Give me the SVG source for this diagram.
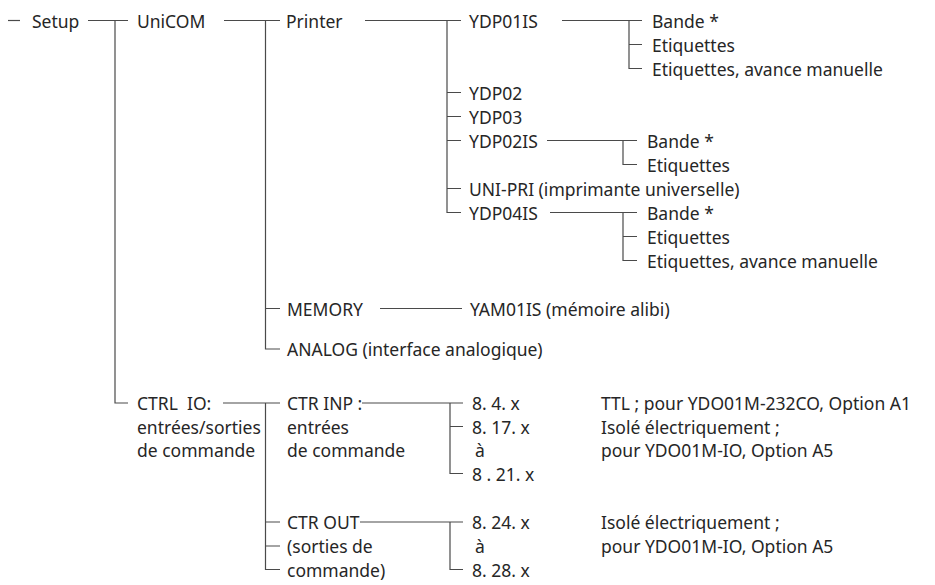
<svg xmlns="http://www.w3.org/2000/svg" width="935" height="585" viewBox="0 0 935 585">
<style>
text{font-family:"Noto Sans","DejaVu Sans",sans-serif;font-size:17.5px;fill:#262626}
.c{fill:none;stroke:#4a4a4a;stroke-width:1.2}
</style>
<rect width="935" height="585" fill="#fff"/>
<g id="connectors" class="c">
<path d="M8 20.5H20"/>
<path d="M88 20.5H128M115 20.5V403H128"/>
<path d="M224 20.5H280M265.5 20.5V349H280M265.5 308.5H280"/>
<path d="M365 20.5H461M447 20.5V212.5H461M447 92.5H461M447 116.5H461M447 140.5H461M447 188.5H461"/>
<path d="M562 20.5H642M629 20.5V68.5H642M629 44.5H642"/>
<path d="M547 140.5H637M623 140.5V164.5H637"/>
<path d="M550 212.5H637M623 212.5V260.5H637M623 236.5H637"/>
<path d="M380 308.5H462"/>
<path d="M223 403H280M265.5 403V569.5H280M265.5 522H280M265.5 546H280"/>
<path d="M362 403H463M450 403V473.5H463M450 426.5H463"/>
<path d="M360 522H463M450 522V569.5H463"/>
</g>
<g id="setup"><text x="32" y="27.5">Setup</text></g>
<g id="unicom"><text x="137" y="27.5">UniCOM</text></g>
<g id="printer"><text x="286" y="27.5">Printer</text></g>
<g id="ydp01is"><text x="469" y="27.5">YDP01IS</text></g>
<g id="ydp01is-opts">
<text x="652" y="27.5">Bande *</text>
<text x="652" y="51.5">Etiquettes</text>
<text x="652" y="75.5">Etiquettes, avance manuelle</text>
</g>
<g id="ydp02"><text x="469" y="99.5">YDP02</text></g>
<g id="ydp03"><text x="469" y="123.5">YDP03</text></g>
<g id="ydp02is"><text x="469" y="147.5">YDP02IS</text></g>
<g id="ydp02is-opts">
<text x="647" y="147.5">Bande *</text>
<text x="647" y="171.5">Etiquettes</text>
</g>
<g id="unipri"><text x="469" y="195.5">UNI-PRI (imprimante universelle)</text></g>
<g id="ydp04is"><text x="469" y="219.5">YDP04IS</text></g>
<g id="ydp04is-opts">
<text x="647" y="219.5">Bande *</text>
<text x="647" y="243.5">Etiquettes</text>
<text x="647" y="267.5">Etiquettes, avance manuelle</text>
</g>
<g id="memory"><text x="287" y="315.5">MEMORY</text></g>
<g id="yam01is"><text x="470" y="315.5">YAM01IS (mémoire alibi)</text></g>
<g id="analog"><text x="287" y="356">ANALOG (interface analogique)</text></g>
<g id="ctrlio">
<text x="137" y="410" xml:space="preserve">CTRL  IO:</text>
<text x="137" y="433.5">entrées/sorties</text>
<text x="137" y="457">de commande</text>
</g>
<g id="ctrinp">
<text x="287" y="410">CTR INP :</text>
<text x="287" y="433.5">entrées</text>
<text x="287" y="457">de commande</text>
</g>
<g id="inp-range">
<text x="472" y="410">8. 4. x</text>
<text x="472" y="433.5">8. 17. x</text>
<text x="475" y="457">à</text>
<text x="472" y="480.5">8 . 21. x</text>
</g>
<g id="inp-desc">
<text x="601" y="410">TTL ; pour YDO01M-232CO, Option A1</text>
<text x="601" y="433.5">Isolé électriquement ;</text>
<text x="601" y="457">pour YDO01M-IO, Option A5</text>
</g>
<g id="ctrout">
<text x="287" y="529">CTR OUT</text>
<text x="287" y="553">(sorties de</text>
<text x="287" y="576.5">commande)</text>
</g>
<g id="out-range">
<text x="472" y="529">8. 24. x</text>
<text x="475" y="553">à</text>
<text x="472" y="576.5">8. 28. x</text>
</g>
<g id="out-desc">
<text x="601" y="529">Isolé électriquement ;</text>
<text x="601" y="553">pour YDO01M-IO, Option A5</text>
</g>
</svg>
